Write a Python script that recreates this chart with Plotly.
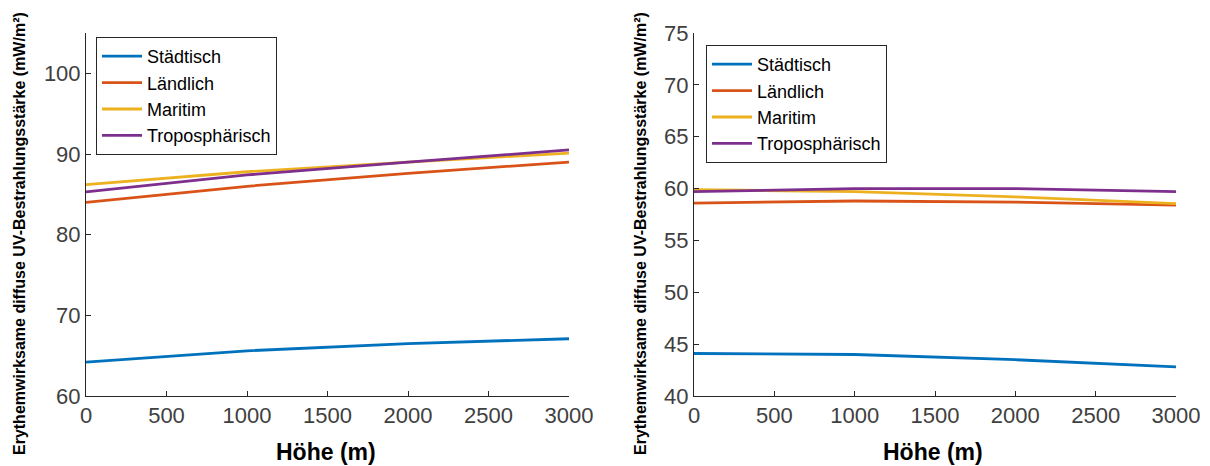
import plotly.graph_objects as go

hoehe = [0, 1000, 2000, 3000]
namen = ["Städtisch", "Ländlich", "Maritim", "Troposphärisch"]
farben = ["#0072BD", "#D95319", "#EDB120", "#7E2F8E"]

# Left panel values
links_staedtisch = [64.2, 65.6, 66.5, 67.1]
links_laendlich = [84.0, 86.0, 87.6, 89.0]
links_maritim = [86.2, 87.8, 89.0, 90.1]
links_tropo = [85.3, 87.4, 89.0, 90.5]

# Right panel values
rechts_staedtisch = [44.1, 44.0, 43.5, 42.8]
rechts_laendlich = [58.6, 58.8, 58.7, 58.4]
rechts_maritim = [59.9, 59.7, 59.2, 58.55]
rechts_tropo = [59.7, 60.0, 60.0, 59.7]

links = [links_staedtisch, links_laendlich, links_maritim, links_tropo]
rechts = [rechts_staedtisch, rechts_laendlich, rechts_maritim, rechts_tropo]

fig = go.Figure()
for name, farbe, werte in zip(namen, farben, links):
    fig.add_trace(go.Scatter(x=hoehe, y=werte, mode="lines", name=name,
                             line=dict(color=farbe, width=2.8),
                             xaxis="x", yaxis="y", legend="legend"))
for name, farbe, werte in zip(namen, farben, rechts):
    fig.add_trace(go.Scatter(x=hoehe, y=werte, mode="lines", name=name,
                             line=dict(color=farbe, width=2.8),
                             xaxis="x2", yaxis="y2", legend="legend2"))

W, H = 1210, 466
axcol = "#262626"
tickfont = dict(family="Liberation Sans, Arial", size=22, color="#404040")

def xaxis(dom, anchor):
    return dict(domain=dom, anchor=anchor, range=[0, 3000], tickvals=[0, 500, 1000, 1500, 2000, 2500, 3000],
                ticks="inside", ticklen=5, tickcolor=axcol, showline=True, linecolor=axcol, linewidth=1,
                showgrid=False, zeroline=False, tickfont=tickfont, mirror=False, automargin=False)

def yaxis(rng, dtick, anchor):
    return dict(domain=[1 - 396 / H, 1 - 33 / H], anchor=anchor, range=rng, dtick=dtick, tick0=rng[0],
                ticks="inside", ticklen=5, tickcolor=axcol, showline=True, linecolor=axcol, linewidth=1,
                showgrid=False, zeroline=False, tickfont=tickfont, automargin=False)

legfont = dict(family="Liberation Sans, Arial", size=18, color="#000000")

def legend(x, y):
    return dict(x=x, y=y, xanchor="left", yanchor="top", bgcolor="white", bordercolor=axcol,
                borderwidth=1, font=legfont, tracegroupgap=0, itemwidth=40)

fig.update_layout(
    width=W, height=H,
    margin=dict(l=0, r=0, t=0, b=0, pad=0, autoexpand=False),
    paper_bgcolor="white", plot_bgcolor="white",
    xaxis=xaxis([86 / W, 569 / W], "y"),
    yaxis=yaxis([60, 105], 10, "x"),
    xaxis2=xaxis([694 / W, 1176 / W], "y2"),
    yaxis2=yaxis([40, 75], 5, "x2"),
    legend=legend(96 / W, 1 - 37 / H),
    legend2=legend(706 / W, 1 - 45 / H),
    showlegend=True,
)

titlefont_x = dict(family="Liberation Sans, Arial", size=23, color="#000000")
titlefont_y = dict(family="Liberation Sans, Arial", size=16, color="#000000")
for xc in [326, 933]:
    fig.add_annotation(text="<b>Höhe (m)</b>", x=xc / W, y=1 - 452 / H, xref="paper", yref="paper",
                       showarrow=False, font=titlefont_x, xanchor="center", yanchor="middle")
for xc in [19, 640]:
    fig.add_annotation(text="<b>Erythemwirksame diffuse UV-Bestrahlungsstärke (mW/m²)</b>",
                       x=xc / W, y=1 - 234 / H, xref="paper", yref="paper", textangle=-90,
                       showarrow=False, font=titlefont_y, xanchor="center", yanchor="middle")

fig.write_html("out.html")
